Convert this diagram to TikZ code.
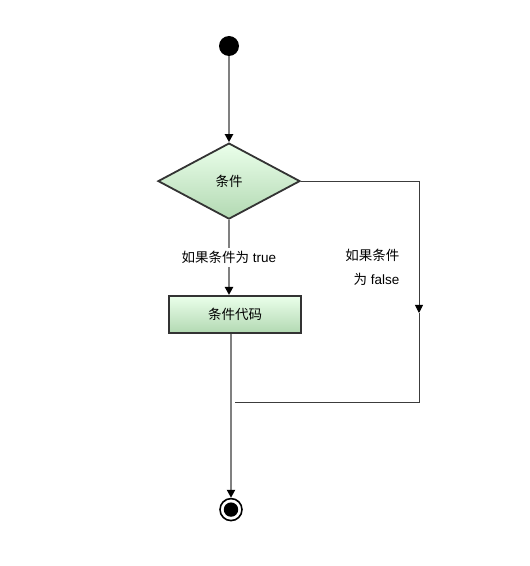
\documentclass[tikz,border=0pt]{standalone}
\usepackage{fontspec}
\setmainfont{Liberation Sans}
\newfontfamily\cjk{Noto Sans CJK SC}
\usetikzlibrary{
	arrows.meta,
	positioning,
	shapes.geometric
}
\newcommand{\zh}[1]{{\cjk #1}}
\definecolor{flowgray}{RGB}{128,128,128}
\definecolor{falsegray}{RGB}{60,60,60}
\tikzset{
  flowtip/.style={-{Triangle[width=8pt,length=8pt,black]}},
  flowline/.style={draw=flowgray,line width=2.2pt},
  falseline/.style={draw=falsegray,line width=0.9pt}
}

\begin{document}
\begin{tikzpicture}[x=1pt,y=1pt,
        font=\fontsize{13.5}{17}\selectfont,
        start node/.style={circle,fill=black,minimum size=20pt,inner sep=0pt},
        stop node/.style={circle,draw=black,line width=1.6pt,fill=white,minimum size=22pt,inner sep=0pt,
          path picture={\fill[black] (path picture bounding box.center) circle (7.2pt);}},
        decision node/.style={diamond,draw=black!80,line width=1.8pt,aspect=1.87,inner sep=0pt,
          minimum width=142pt,minimum height=76pt,top color=green!8!white,bottom color=green!50!black!30!white},
        code node/.style={rectangle,draw=black!80,line width=1.8pt,inner sep=0pt,
          minimum width=132pt,minimum height=37pt,top color=green!8!white,bottom color=green!50!black!30!white}]
        \useasboundingbox (0,0) rectangle (530,566);
        \node[start node] (start) at (229,520) {};
        \node[decision node] (cond) [below=86pt of start] {\zh{条件}};
        \node[code node] (code) [below=75pt of cond, xshift=6pt] {\zh{条件代码}};
        \node[stop node] (stop) [below=164pt of code, xshift=-4pt] {};

        \coordinate (fdown) at (419,253);
        \coordinate (fback) at (419,164);
        \coordinate (fjoin) at (235,164);

          \draw[flowline,flowtip] (start) -- (cond);
          \draw[flowline,flowtip] (cond.south) -- node[fill=white,inner sep=3pt,text=black]{\zh{如果条件为} true} (cond.south |- code.north);
          \draw[flowline,flowtip] (code.south -| stop) -- (stop);

          \draw[falseline,flowtip] (cond.east) -| (fdown);
          \draw[falseline] (fdown) -- (fback) -- (fjoin);
          \node[align=right,anchor=east] (flabel) at (403,299) {\zh{如果条件}\\[7pt]\zh{为} false};

      \end{tikzpicture}
\end{document}
